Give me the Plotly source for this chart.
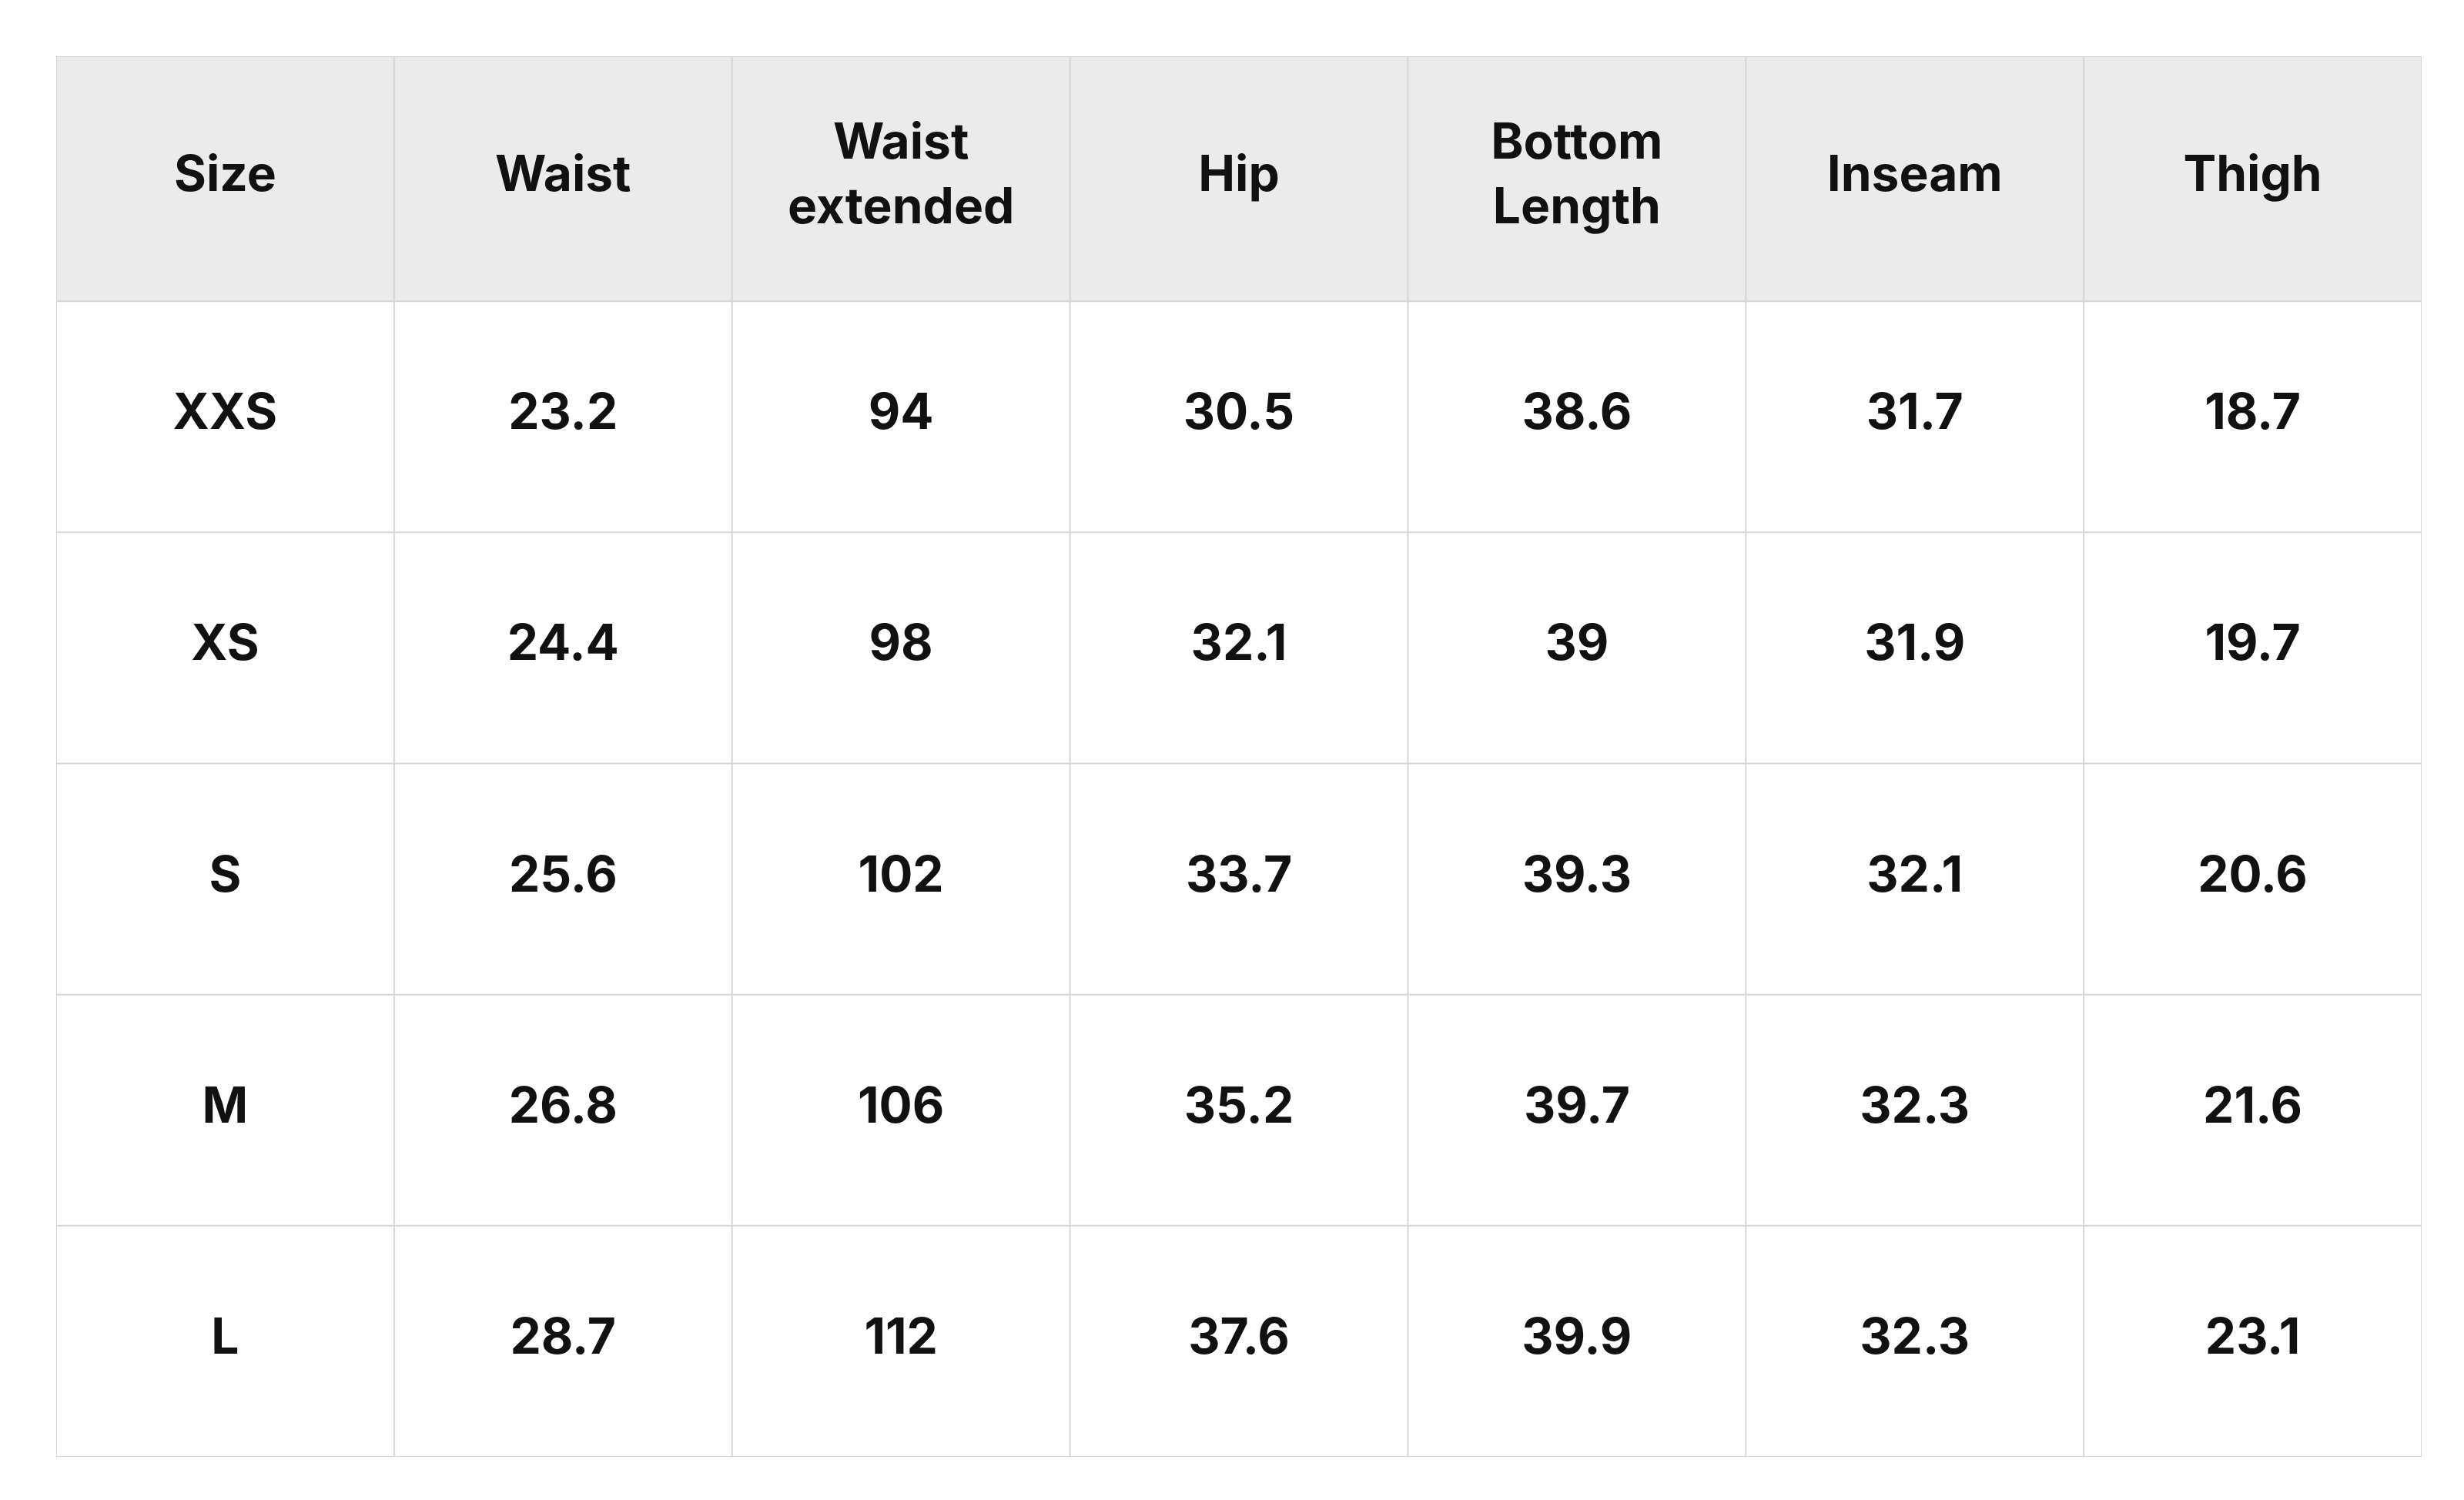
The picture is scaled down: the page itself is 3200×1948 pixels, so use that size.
import plotly.graph_objects as go

headers = ["Size", "Waist", "Waist<br>extended", "Hip", "Bottom<br>Length", "Inseam", "Thigh"]
sizes = ["XXS", "XS", "S", "M", "L"]
waist = ["23.2", "24.4", "25.6", "26.8", "28.7"]
waist_ext = ["94", "98", "102", "106", "112"]
hip = ["30.5", "32.1", "33.7", "35.2", "37.6"]
bottom_length = ["38.6", "39", "39.3", "39.7", "39.9"]
inseam = ["31.7", "31.9", "32.1", "32.3", "32.3"]
thigh = ["18.7", "19.7", "20.6", "21.6", "23.1"]

columns = [sizes, waist, waist_ext, hip, bottom_length, inseam, thigh]
head_h = 1.06
n_rows = len(sizes)
line_col = "#d6d6d6"

fig = go.Figure()
shapes = [dict(type="rect", x0=0, x1=len(headers), y0=0, y1=head_h,
               fillcolor="#ebebeb", line_width=0, layer="below")]
# grid lines
for c in range(len(headers) + 1):
    shapes.append(dict(type="line", x0=c, x1=c, y0=0, y1=head_h + n_rows,
                       line=dict(color=line_col, width=2)))
for r in range(n_rows + 1):
    y = 0 if r == 0 else head_h + r - 1
    shapes.append(dict(type="line", x0=0, x1=len(headers), y0=y, y1=y,
                       line=dict(color=line_col, width=2)))
shapes.append(dict(type="line", x0=0, x1=len(headers), y0=head_h + n_rows, y1=head_h + n_rows,
                   line=dict(color=line_col, width=2)))

fig.add_trace(go.Scatter(
    x=[i + 0.5 for i in range(len(headers))], y=[head_h / 2] * len(headers),
    text=["<b>%s</b>" % h for h in headers], mode="text",
    textfont=dict(family="Inter", size=64, color="#111111"), hoverinfo="skip"))

xs, ys, ts = [], [], []
for c, col in enumerate(columns):
    for r, v in enumerate(col):
        xs.append(c + 0.5)
        ys.append(head_h + r + 0.5)
        ts.append("<b>%s</b>" % v)
fig.add_trace(go.Scatter(x=xs, y=ys, text=ts, mode="text",
                         textfont=dict(family="Inter", size=64, color="#111111"),
                         hoverinfo="skip"))

fig.update_layout(
    width=3200, height=1948, margin=dict(l=0, r=0, t=0, b=0),
    plot_bgcolor="white", paper_bgcolor="white", showlegend=False,
    shapes=shapes,
    xaxis=dict(range=[0, len(headers)], domain=[65 / 3200, 3137 / 3200],
               visible=False, fixedrange=True),
    yaxis=dict(range=[head_h + n_rows, 0], domain=[1 - 1884 / 1948, 1 - 65 / 1948],
               visible=False, fixedrange=True),
)
fig.write_html("out.html")
